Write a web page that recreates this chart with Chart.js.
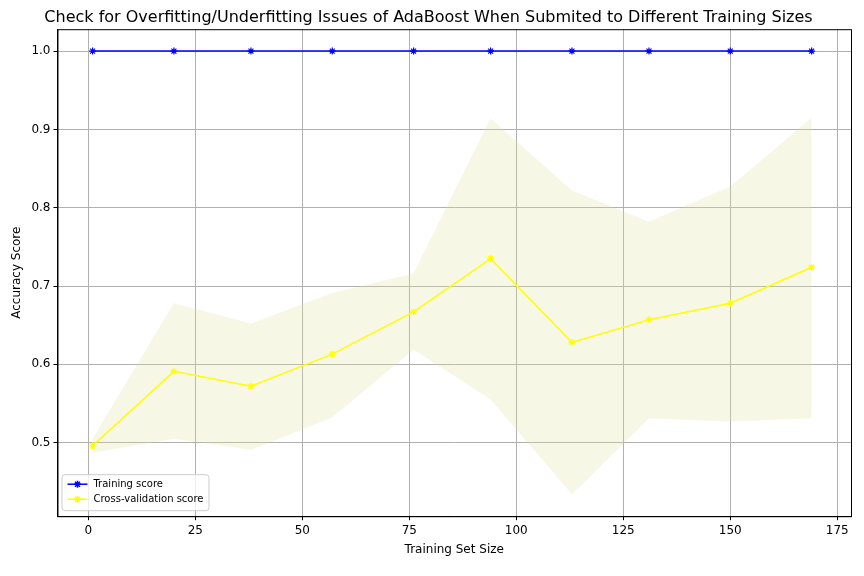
<!DOCTYPE html>
<html>
<head>
<script src="https://cdn.jsdelivr.net/npm/chart.js@4/dist/chart.umd.min.js"></script>
<style>
  body { margin: 0; background: #fff; }
  #wrap { width: 864px; height: 576px; }
</style>
</head>
<body>
<div id="wrap"><canvas id="myChart" width="864" height="576"></canvas></div>
<script>
/* Learning curve data */
const trainSizes = [1, 20, 38, 57, 76, 94, 113, 131, 150, 169];
const trainScore = [1, 1, 1, 1, 1, 1, 1, 1, 1, 1];
const cvScore = [0.496, 0.591, 0.572, 0.613, 0.667, 0.735, 0.628, 0.657, 0.678, 0.724];
const cvUpper = [0.505, 0.678, 0.652, 0.691, 0.716, 0.914, 0.822, 0.782, 0.827, 0.915];
const cvLower = [0.487, 0.505, 0.491, 0.532, 0.619, 0.555, 0.434, 0.531, 0.527, 0.531];
const xTicks = [0, 25, 50, 75, 100, 125, 150, 175];
const yTicks = [0.5, 0.6, 0.7, 0.8, 0.9, 1.0];

const pts = arr => arr.map((v, i) => ({x: trainSizes[i], y: v}));
const font = {family: 'DejaVu Sans', size: 12};

function draw_legend(chart){
  const ctx = chart.ctx, a = chart.chartArea;
  ctx.save();
  // full frame like matplotlib
  ctx.strokeStyle = '#000'; ctx.lineWidth = 1;
  ctx.strokeRect(a.left + 0.5, a.top + 0.5, a.right - a.left, a.bottom - a.top);
  const x = a.left + 4, y = a.bottom - 42, w = 147, h = 36;
  ctx.fillStyle = 'rgba(255,255,255,0.8)';
  ctx.strokeStyle = '#ccc';
  ctx.beginPath();
  ctx.roundRect(x + 0.5, y + 0.5, w, h, 3);
  ctx.fill(); ctx.stroke();
  const items = [['Training score', 'blue'], ['Cross-validation score', 'yellow']];
  items.forEach((it, i) => {
    const yy = y + 10 + i * 15;
    ctx.strokeStyle = it[1];
    ctx.fillStyle = it[1];
    ctx.lineWidth = 1.5;
    ctx.beginPath(); ctx.moveTo(x + 6, yy); ctx.lineTo(x + 26, yy); ctx.stroke();
    Chart.helpers.drawPoint(ctx, {pointStyle: 'star', radius: 3.5, borderWidth: 1.2}, x + 16, yy);
    ctx.fillStyle = '#000';
    ctx.font = '10px DejaVu Sans';
    ctx.textBaseline = 'middle';
    ctx.fillText(it[0], x + 32, yy);
  });
  ctx.restore();
}

new Chart(document.getElementById('myChart'), {
  type: 'line',
  plugins: [{ afterDraw: draw_legend }],
  data: {
    datasets: [
      { label: 'upper', data: pts(cvUpper), borderWidth: 0, pointRadius: 0, fill: '+1',
        backgroundColor: 'rgba(222,222,150,0.25)', order: 3 },
      { label: 'lower', data: pts(cvLower), borderWidth: 0, pointRadius: 0, fill: false, order: 3 },
      { label: 'Training score', data: pts(trainScore), borderColor: 'blue', backgroundColor: 'blue',
        borderWidth: 1.5, pointStyle: 'star', pointRadius: 3.5, pointBorderWidth: 1.2, order: 1 },
      { label: 'Cross-validation score', data: pts(cvScore), borderColor: 'yellow', backgroundColor: 'yellow',
        borderWidth: 1.5, pointStyle: 'star', pointRadius: 3.5, pointBorderWidth: 1.2, order: 2 }
    ]
  },
  options: {
    responsive: false,
    animation: false,
    layout: { padding: { left: 6, right: 13, top: 0, bottom: 17 } },
    plugins: {
      legend: { display: false },
      tooltip: { enabled: false },
      title: { display: true, text: 'Check for Overfitting/Underfitting Issues of AdaBoost When Submited to Different Training Sizes',
        color: '#000', font: {family: 'DejaVu Sans', size: 16, weight: 'normal'}, padding: {top: 8, bottom: 2} }
    },
    scales: {
      x: { type: 'linear', min: -7.2, max: 178.2,
        afterBuildTicks: ax => { ax.ticks = xTicks.map(v => ({value: v})); },
        ticks: { color: '#000', font: font },
        grid: { color: '#b0b0b0', tickColor: '#000', drawTicks: true, tickLength: 4 },
        border: { color: '#000' },
        title: { display: true, text: 'Training Set Size', color: '#000', font: font, padding: 2 } },
      y: { min: 0.406, max: 1.028,
        afterBuildTicks: ax => { ax.ticks = yTicks.map(v => ({value: v})); },
        ticks: { color: '#000', font: font, callback: v => v.toFixed(1) },
        grid: { color: '#b0b0b0', tickColor: '#000', tickLength: 4 },
        border: { color: '#000' },
        title: { display: true, text: 'Accuracy Score', color: '#000', font: font } }
    }
  }
});
</script>
</body>
</html>
